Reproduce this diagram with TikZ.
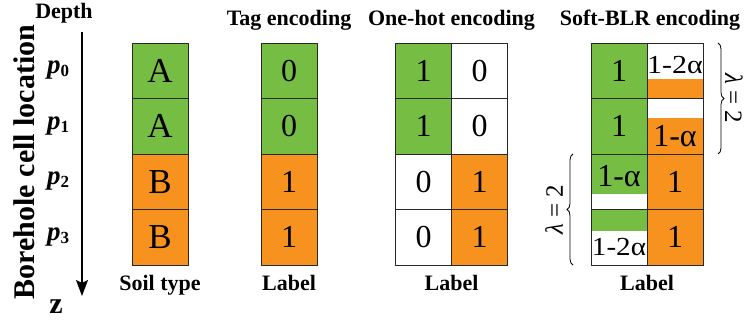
\documentclass[tikz,border=0pt]{standalone}
\usepackage{fontspec}
\setmainfont{Liberation Serif}
\usetikzlibrary{arrows.meta,calc,decorations.pathreplacing,backgrounds}
\definecolor{cgreen}{RGB}{118,190,67}
\definecolor{corange}{RGB}{247,146,30}
\definecolor{cline}{RGB}{40,40,40}
\begin{document}
\begin{tikzpicture}[x=1pt,y=-1pt,
  cell/.style={draw=cline,line width=0.9pt,minimum width=56pt,minimum height=55.5pt,
    inner sep=0pt,outer sep=0pt,font=\fontsize{32}{32}\selectfont},
  gcell/.style={cell,fill=cgreen},
  ocell/.style={cell,fill=corange},
  wcell/.style={cell,fill=white},
  lettercell/.style={font=\fontsize{35}{35}\selectfont},
  title/.style={font=\fontsize{22}{24}\selectfont\bfseries,inner sep=0pt,anchor=base},
  celltext/.style={inner sep=0pt,font=\fontsize{32}{32}\selectfont},
  smalltext/.style={inner sep=0pt,font=\fontsize{26}{26}\selectfont},
  plabel/.style={inner sep=0pt,anchor=base,font=\fontsize{27}{27}\selectfont\bfseries\itshape},
  bracepath/.style={decorate,decoration={brace,amplitude=6pt},line width=0.8pt},
  lambdalabel/.style={inner sep=0pt,font=\fontsize{25}{25}\selectfont}
]
\useasboundingbox (0,0) rectangle (749,324);

% titles
\node[title] (tdepth) at (64,18) {Depth};
\node[title] (ttag) at (289,25) {Tag encoding};
\node[title] (tone) at (451.5,25) {One-hot encoding};
\node[title] (tsoft) at (650,25) {Soft-BLR encoding};

% axis
\coordinate (atop) at (82,32);
\coordinate (abot) at (82,296);
\draw[line width=1.5pt,-{Stealth[length=16pt,width=12pt,inset=3pt]}] (atop) -- (abot);
\node[inner sep=0pt,anchor=base,font=\fontsize{30}{30}\selectfont\bfseries] (zlab) at (56,313) {z};
\node[inner sep=0pt,rotate=90,font=\fontsize{30}{30}\selectfont\bfseries] (bcl) at (24,162) {Borehole cell location};

% depth labels
\node[plabel] (p0) at (58,73.5) {p\raisebox{-0.12em}{\upshape\fontsize{17}{17}\selectfont 0}};
\node[plabel] (p1) at (58,129) {p\raisebox{-0.12em}{\upshape\fontsize{17}{17}\selectfont 1}};
\node[plabel] (p2) at (58,184.5) {p\raisebox{-0.12em}{\upshape\fontsize{17}{17}\selectfont 2}};
\node[plabel] (p3) at (58,240) {p\raisebox{-0.12em}{\upshape\fontsize{17}{17}\selectfont 3}};

% soil type
\node[gcell,lettercell] (a0) at (160,70.75) {A};
\node[gcell,lettercell] (a1) at (160,126.25) {A};
\node[ocell,lettercell] (a2) at (160,181.75) {B};
\node[ocell,lettercell] (a3) at (160,237.25) {B};

% tag encoding
\node[gcell] (t0) at (289,70.75) {0};
\node[gcell] (t1) at (289,126.25) {0};
\node[ocell] (t2) at (289,181.75) {1};
\node[ocell] (t3) at (289,237.25) {1};

% one-hot
\node[gcell] (o00) at (423.5,70.75) {1};
\node[wcell] (o01) at (479.5,70.75) {0};
\node[gcell] (o10) at (423.5,126.25) {1};
\node[wcell] (o11) at (479.5,126.25) {0};
\node[wcell] (o20) at (423.5,181.75) {0};
\node[ocell] (o21) at (479.5,181.75) {1};
\node[wcell] (o30) at (423.5,237.25) {0};
\node[ocell] (o31) at (479.5,237.25) {1};

% soft-BLR
\node[gcell] (s00) at (619,70.75) {1};
\node[cell] (s01) at (675,70.75) {};
\node[gcell] (s10) at (619,126.25) {1};
\node[cell] (s11) at (675,126.25) {};
\node[cell] (s20) at (619,181.75) {};
\node[ocell] (s21) at (675,181.75) {1};
\node[cell] (s30) at (619,237.25) {};
\node[ocell] (s31) at (675,237.25) {1};

\begin{scope}[on background layer]
  \fill[white] (0,0) rectangle (749,324);
  \fill[corange] ($(s01.north west)!0.65!(s01.south west)$) rectangle (s01.south east);
  \fill[corange] ($(s11.north west)!0.36!(s11.south west)$) rectangle (s11.south east);
  \fill[cgreen] (s20.north west) rectangle ($(s20.north east)!0.72!(s20.south east)$);
  \fill[cgreen] (s30.north west) rectangle ($(s30.north east)!0.38!(s30.south east)$);
\end{scope}

\node[smalltext] (s01t) at ($(s01.north)!0.4!(s01.south)$) {\scalebox{1.15}[1]{1-2α}};
\node[celltext] (s11t) at ($(s11.north)!0.68!(s11.south)$) {1-α};
\node[celltext] (s20t) at ($(s20.north)!0.4!(s20.south)$) {1-α};
\node[smalltext] (s30t) at ($(s30.north)!0.68!(s30.south)$) {\scalebox{1.12}[1]{1-2α}};

% bottom labels
\node[title] (lsoil) at (160,290) {Soil type};
\node[title] (ltag) at (289,290) {Label};
\node[title] (lone) at (451.5,290) {Label};
\node[title] (lsoft) at (647,290) {Label};

% braces
\coordinate (rb1) at ($(s01.north east)+(15,0)$);
\coordinate (rb2) at ($(s11.south east)+(15,0)$);
\draw[bracepath] (rb1) -- (rb2) node[midway,xshift=16pt,rotate=-90,lambdalabel] (lamr) {\itshape λ\upshape\ = 2};
\coordinate (lb1) at ($(s30.south west)+(-18,0)$);
\coordinate (lb2) at ($(s20.north west)+(-18,0)$);
\draw[bracepath] (lb1) -- (lb2) node[midway,xshift=-19pt,rotate=90,lambdalabel] (laml) {\itshape λ\upshape\ = 2};
\end{tikzpicture}
\end{document}
